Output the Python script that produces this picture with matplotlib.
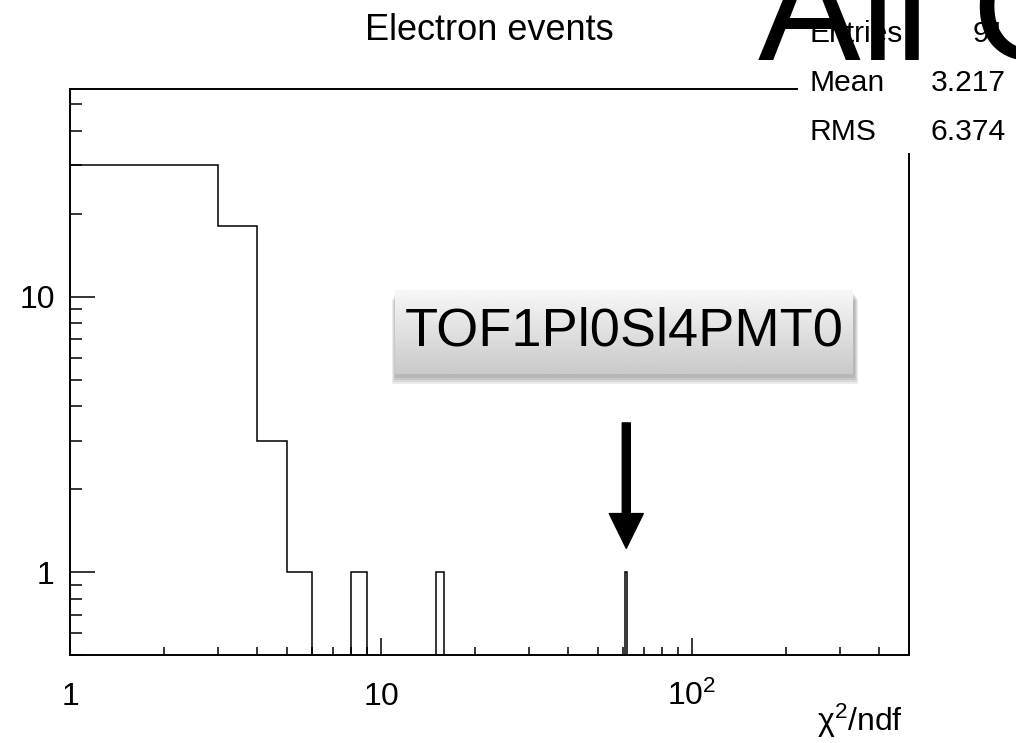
import numpy as np
import matplotlib
matplotlib.use('Agg')
import matplotlib.pyplot as plt
from matplotlib.patches import Rectangle
from matplotlib.ticker import FixedLocator, LogLocator, NullFormatter

plt.rcParams['font.family'] = ['Liberation Sans', 'DejaVu Sans']
plt.rcParams['mathtext.fontset'] = 'custom'
plt.rcParams['mathtext.rm'] = 'Liberation Sans'
plt.rcParams['mathtext.it'] = 'Liberation Sans:italic'

# chi2/ndf histogram, unit-width bins (only the filled ones listed)
bin_low = [1, 2, 3, 4, 5, 8, 15, 61]
bin_counts = [30, 30, 18, 3, 1, 1, 1, 1]
x_max = 500

x_ticks = [1, 10, 100]
x_ticklabels = ['$1$', '$10$', '$10^{2}$']
y_ticks = [1, 10]
y_ticklabels = ['1', '10']

stat_names = ['Entries', 'Mean', 'RMS']
stat_values = ['91', '3.217', '6.374']

title = 'Electron events'
channel = 'TOF1Pl0Sl4PMT0'
flagged_bin = 61

W, H = 1016, 743
fig = plt.figure(figsize=(W / 100, H / 100), dpi=100)


def fx(px):
    return px / W


def fy(py):
    return 1 - py / H


ax = fig.add_axes([fx(70), fy(655), fx(909.3) - fx(70), fy(89.3) - fy(655)])
ax.set_facecolor('none')

edges = np.arange(1, x_max + 1)
values = np.zeros(len(edges) - 1)
for lo, c in zip(bin_low, bin_counts):
    values[lo - 1] = c
# empty bins drop below the log axis so the outline runs along the frame
ax.stairs(np.where(values > 0, values, 1e-3), edges, color='black', lw=1.1, baseline=None)

ax.set_xscale('log')
ax.set_yscale('log')
ax.set_xlim(1, x_max)
ax.set_ylim(0.5, 56.6)

ax.xaxis.set_major_locator(FixedLocator(x_ticks))
ax.xaxis.set_minor_locator(LogLocator(base=10, subs=np.arange(2, 10), numticks=20))
ax.xaxis.set_minor_formatter(NullFormatter())
ax.set_xticks(x_ticks, x_ticklabels)
ax.yaxis.set_major_locator(FixedLocator(y_ticks))
ax.yaxis.set_minor_locator(LogLocator(base=10, subs=np.arange(2, 10), numticks=20))
ax.yaxis.set_minor_formatter(NullFormatter())
ax.set_yticks(y_ticks, y_ticklabels)

ax.tick_params(axis='x', which='major', direction='in', length=12, width=1.1,
               labelsize=23, pad=36, top=False)
ax.tick_params(axis='x', which='minor', direction='in', length=6, width=1.1, top=False)
ax.tick_params(axis='y', which='major', direction='in', length=18, width=1.1,
               labelsize=23, pad=11, right=False)
ax.tick_params(axis='y', which='minor', direction='in', length=8.6, width=1.1, right=False)
for lab in ax.get_xticklabels():
    lab.set_verticalalignment('baseline')
for sp in ax.spines.values():
    sp.set_linewidth(1.4)

# arrow pointing at the flagged channel
ax.annotate('', xy=(flagged_bin + 0.5, 1.22), xytext=(flagged_bin + 0.5, 3.48),
            arrowprops=dict(arrowstyle='simple,head_length=2.5,head_width=2.45,tail_width=0.58',
                            mutation_scale=10, color='black', shrinkA=0, shrinkB=0))

# channel label: soft drop shadow + gradient box
bx0, bx1, by0, by1 = 395, 853, 289.5, 374
for s in [8, 6, 4, 2]:
    fig.add_artist(Rectangle((fx(bx0 - s / 2 + 1), fy(by1 + 2 + s)),
                             (bx1 - bx0 + s) / W, (by1 - by0) / H,
                             transform=fig.transFigure, fc='black', ec='none',
                             alpha=0.08, zorder=0.5))
bax = fig.add_axes([fx(bx0), fy(by1), (bx1 - bx0) / W, (by1 - by0) / H], zorder=1)
grad = np.linspace(0.97, 0.79, 100).reshape(-1, 1)
bax.imshow(grad, cmap='gray', vmin=0, vmax=1, aspect='auto', extent=[0, 1, 0, 1])
bax.set_axis_off()
bax.text(0.5, 0.5, channel, ha='center', va='center', fontsize=39, transform=bax.transAxes)

# stats box
fig.add_artist(Rectangle((fx(798), fy(153)), 1 - fx(798), 153 / H,
                         transform=fig.transFigure, fc='white', ec='none', zorder=2))
for i, (name, val) in enumerate(zip(stat_names, stat_values)):
    base = 42 + 49 * i
    fig.text(fx(810), fy(base), name, fontsize=21.6, va='baseline', zorder=3)
    fig.text(fx(1006), fy(base), val, fontsize=21.6, va='baseline', ha='right', zorder=3)

fig.text(fx(489.6), fy(40), title, ha='center', va='baseline', fontsize=26)
fig.text(fx(758), fy(60), 'All C', fontsize=111, va='baseline', zorder=4)
fig.text(fx(903), fy(731), 'χ$^{2}$/ndf', ha='right', va='baseline', fontsize=23)

fig.savefig('out.png', dpi=100)
